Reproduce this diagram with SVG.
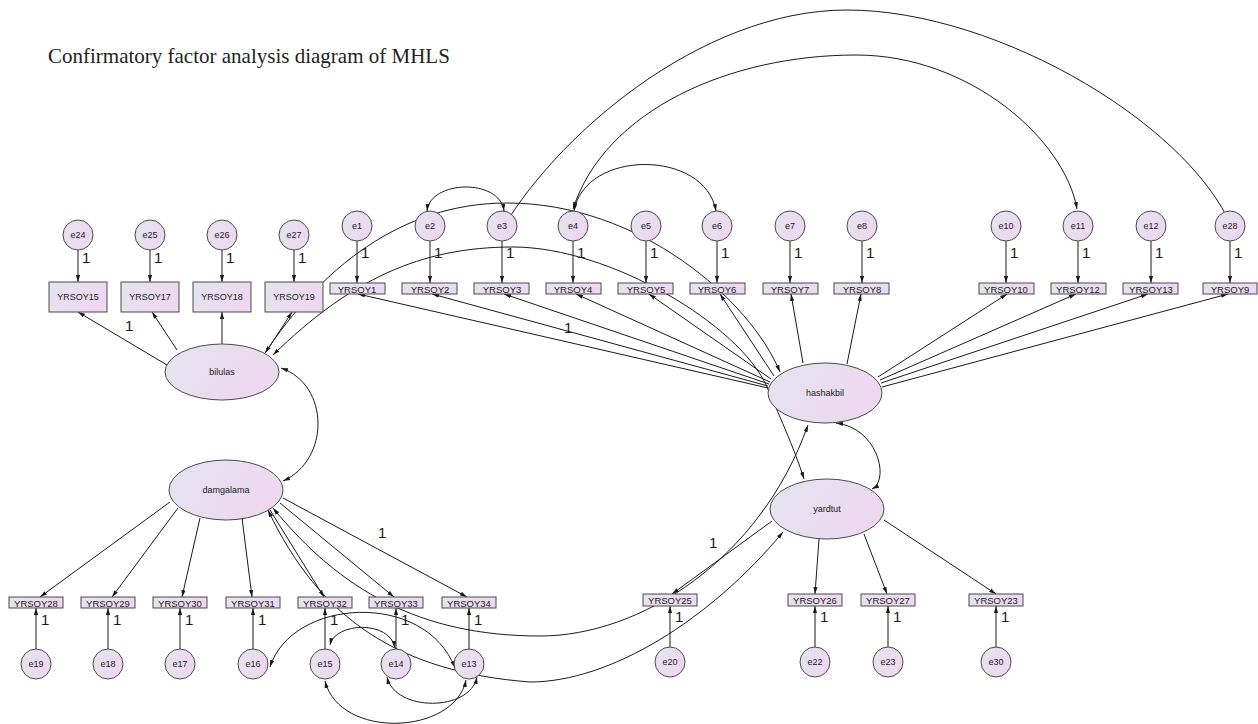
<svg xmlns="http://www.w3.org/2000/svg" width="1258" height="724" viewBox="0 0 1258 724">
<defs>
<linearGradient id="g" x1="0" y1="0" x2="1" y2="0.4"><stop offset="0" stop-color="#e2e5ee"/><stop offset="1" stop-color="#efd7f1"/></linearGradient>
<marker id="ar" viewBox="0 0 10 6" refX="10" refY="3" markerWidth="7" markerHeight="4.5" markerUnits="userSpaceOnUse" orient="auto-start-reverse"><path d="M0,0L10,3L0,6z" fill="#1a1a1a"/></marker>
</defs>
<style>
.n{fill:url(#g);stroke:#4a4a4a;stroke-width:1}
.t{font-family:"Liberation Sans",Arial,sans-serif;font-size:9px;fill:#222;text-anchor:middle}
.bt{font-family:"Liberation Sans",Arial,sans-serif;font-size:9.5px;fill:#222;text-anchor:middle}
.one{font-family:"Liberation Sans",Arial,sans-serif;font-size:15px;fill:#1a1a1a}
.c{fill:none;stroke:#1a1a1a;stroke-width:1}
.s{marker-end:url(#ar)}
.d{marker-start:url(#ar);marker-end:url(#ar)}
.title{font-family:"Liberation Serif","Times New Roman",serif;font-size:21px;fill:#222}
</style>
<rect width="1258" height="724" fill="#fff"/>
<text class="title" x="48" y="63">Confirmatory factor analysis diagram of MHLS</text>

<g id="connectors">
<!-- error to indicator -->
<path class="c s" d="M78,250V282"/><path class="c s" d="M150,250V282"/><path class="c s" d="M222,250V282"/><path class="c s" d="M294,250V282"/>
<path class="c s" d="M357,241V283"/><path class="c s" d="M430,241V283"/><path class="c s" d="M502,241V283"/><path class="c s" d="M573,241V283"/><path class="c s" d="M646,241V283"/><path class="c s" d="M717,241V283"/><path class="c s" d="M790,241V283"/><path class="c s" d="M862,241V283"/><path class="c s" d="M1006,241V283"/><path class="c s" d="M1078,241V283"/><path class="c s" d="M1151,241V283"/><path class="c s" d="M1230,241V283"/>
<path class="c s" d="M36,649V608"/><path class="c s" d="M108,649V608"/><path class="c s" d="M180,649V608"/><path class="c s" d="M253,649V608"/><path class="c s" d="M325,649V608"/><path class="c s" d="M396,649V608"/><path class="c s" d="M469,649V608"/>
<path class="c s" d="M670,647V606"/><path class="c s" d="M815,647V606"/><path class="c s" d="M888,647V606"/><path class="c s" d="M996,647V606"/>
<!-- loadings -->
<path class="c s" d="M167,365L78,312"/><path class="c s" d="M177,350L152,312"/><path class="c s" d="M222,344V312"/><path class="c s" d="M266,352L292,312"/>
<path class="c s" d="M768,388L358,294"/><path class="c s" d="M768,386L432,294"/><path class="c s" d="M769,384L504,294"/><path class="c s" d="M770,382L576,294"/><path class="c s" d="M771,379L649,294"/><path class="c s" d="M774,376L720,294"/><path class="c s" d="M803,363L791,294"/><path class="c s" d="M847,364L861,294"/><path class="c s" d="M878,377L1007,294"/><path class="c s" d="M880,380L1076,294"/><path class="c s" d="M881,383L1148,294"/><path class="c s" d="M882,387L1228,294"/>
<path class="c s" d="M170,502L40,597"/><path class="c s" d="M178,508L112,597"/><path class="c s" d="M200,518L182,597"/><path class="c s" d="M242,518L252,597"/><path class="c s" d="M270,510L324,597"/><path class="c s" d="M280,503L394,597"/><path class="c s" d="M283,498L467,597"/>
<path class="c s" d="M772,521L672,594"/><path class="c s" d="M819,539L815,594"/><path class="c s" d="M864,534L887,594"/><path class="c s" d="M884,520L996,594"/>
<!-- covariances -->
<path class="c d" d="M265,353C320,270 400,203 507,203C640,203 750,300 780,372"/>
<path class="c d" d="M273,355C350,280 420,247 513,247C610,247 740,325 767,387C776,408 795,450 804,479"/>
<path class="c d" d="M281,368C330,385 330,460 283,481"/>
<path class="c d" d="M836,423C878,428 890,480 872,489"/>
<path class="c d" d="M273,508C340,590 420,636 540,636C640,636 760,560 808,425"/>
<path class="c d" d="M268,510C320,620 400,672 530,682C610,682 710,620 783,532"/>
<path class="c d" d="M427,211C430,180 500,178 504,211"/>
<path class="c d" d="M574,211C585,149 705,149 716,211"/>
<path class="c d" d="M497,238C552,138 700,10 847,10C1000,10 1200,130 1236,238"/>
<path class="c d" d="M573,209C605,110 730,55 856,55C970,55 1065,140 1077,209"/>
<path class="c d" d="M270,667C292,598 425,590 455,668"/>
<path class="c d" d="M330,645C335,622 390,620 395,648"/>
<path class="c d" d="M325,681C340,740 455,735 466,680"/>
<path class="c d" d="M387,677C395,712 470,712 477,677"/>
</g>

<g id="weights">
<text class="one" x="82" y="263">1</text><text class="one" x="154" y="263">1</text><text class="one" x="226" y="263">1</text><text class="one" x="298" y="263">1</text>
<text class="one" x="361" y="258">1</text><text class="one" x="434" y="258">1</text><text class="one" x="506" y="258">1</text><text class="one" x="577" y="258">1</text><text class="one" x="650" y="258">1</text><text class="one" x="721" y="258">1</text><text class="one" x="794" y="258">1</text><text class="one" x="866" y="258">1</text><text class="one" x="1010" y="258">1</text><text class="one" x="1082" y="258">1</text><text class="one" x="1155" y="258">1</text><text class="one" x="1234" y="258">1</text>
<text class="one" x="41" y="625">1</text><text class="one" x="113" y="625">1</text><text class="one" x="185" y="625">1</text><text class="one" x="258" y="625">1</text><text class="one" x="330" y="625">1</text><text class="one" x="401" y="625">1</text><text class="one" x="474" y="625">1</text>
<text class="one" x="675" y="622">1</text><text class="one" x="820" y="622">1</text><text class="one" x="893" y="622">1</text><text class="one" x="1001" y="622">1</text>
<text class="one" x="125" y="331">1</text><text class="one" x="564" y="333">1</text><text class="one" x="378" y="538">1</text><text class="one" x="709" y="548">1</text>
</g>

<!-- latent variables -->
<g id="bilulas"><ellipse class="n" cx="222" cy="372" rx="57" ry="28"/><text class="t" x="222" y="375">bilulas</text></g>
<g id="damgalama"><ellipse class="n" cx="226" cy="490" rx="57" ry="30"/><text class="t" x="226" y="493">damgalama</text></g>
<g id="hashakbil"><ellipse class="n" cx="825" cy="393" rx="57" ry="30"/><text class="t" x="825" y="396">hashakbil</text></g>
<g id="yardtut"><ellipse class="n" cx="827" cy="509" rx="57" ry="30"/><text class="t" x="827" y="512">yardtut</text></g>

<!-- top-left indicators -->
<g id="e24"><circle class="n" cx="78" cy="235" r="15"/><text class="t" x="78" y="238">e24</text></g>
<g id="e25"><circle class="n" cx="150" cy="235" r="15"/><text class="t" x="150" y="238">e25</text></g>
<g id="e26"><circle class="n" cx="222" cy="235" r="15"/><text class="t" x="222" y="238">e26</text></g>
<g id="e27"><circle class="n" cx="294" cy="235" r="15"/><text class="t" x="294" y="238">e27</text></g>
<g id="YRSOY15"><rect class="n" x="49" y="282" width="58" height="30"/><text class="t" x="78" y="300">YRSOY15</text></g>
<g id="YRSOY17"><rect class="n" x="121" y="282" width="58" height="30"/><text class="t" x="150" y="300">YRSOY17</text></g>
<g id="YRSOY18"><rect class="n" x="193" y="282" width="58" height="30"/><text class="t" x="222" y="300">YRSOY18</text></g>
<g id="YRSOY19"><rect class="n" x="265" y="282" width="58" height="30"/><text class="t" x="294" y="300">YRSOY19</text></g>

<!-- top indicators of hashakbil -->
<g id="e1"><circle class="n" cx="357" cy="226" r="15"/><text class="t" x="357" y="229">e1</text></g>
<g id="e2"><circle class="n" cx="430" cy="226" r="15"/><text class="t" x="430" y="229">e2</text></g>
<g id="e3"><circle class="n" cx="502" cy="226" r="15"/><text class="t" x="502" y="229">e3</text></g>
<g id="e4"><circle class="n" cx="573" cy="226" r="15"/><text class="t" x="573" y="229">e4</text></g>
<g id="e5"><circle class="n" cx="646" cy="226" r="15"/><text class="t" x="646" y="229">e5</text></g>
<g id="e6"><circle class="n" cx="717" cy="226" r="15"/><text class="t" x="717" y="229">e6</text></g>
<g id="e7"><circle class="n" cx="790" cy="226" r="15"/><text class="t" x="790" y="229">e7</text></g>
<g id="e8"><circle class="n" cx="862" cy="226" r="15"/><text class="t" x="862" y="229">e8</text></g>
<g id="e10"><circle class="n" cx="1006" cy="226" r="15"/><text class="t" x="1006" y="229">e10</text></g>
<g id="e11"><circle class="n" cx="1078" cy="226" r="15"/><text class="t" x="1078" y="229">e11</text></g>
<g id="e12"><circle class="n" cx="1151" cy="226" r="15"/><text class="t" x="1151" y="229">e12</text></g>
<g id="e28"><circle class="n" cx="1230" cy="226" r="15"/><text class="t" x="1230" y="229">e28</text></g>
<g id="YRSOY1"><rect class="n" x="330" y="283" width="55" height="11"/><text class="bt" x="357" y="292.5">YRSOY1</text></g>
<g id="YRSOY2"><rect class="n" x="402" y="283" width="55" height="11"/><text class="bt" x="430" y="292.5">YRSOY2</text></g>
<g id="YRSOY3"><rect class="n" x="474" y="283" width="55" height="11"/><text class="bt" x="502" y="292.5">YRSOY3</text></g>
<g id="YRSOY4"><rect class="n" x="546" y="283" width="55" height="11"/><text class="bt" x="573" y="292.5">YRSOY4</text></g>
<g id="YRSOY5"><rect class="n" x="618" y="283" width="55" height="11"/><text class="bt" x="646" y="292.5">YRSOY5</text></g>
<g id="YRSOY6"><rect class="n" x="690" y="283" width="55" height="11"/><text class="bt" x="717" y="292.5">YRSOY6</text></g>
<g id="YRSOY7"><rect class="n" x="763" y="283" width="55" height="11"/><text class="bt" x="790" y="292.5">YRSOY7</text></g>
<g id="YRSOY8"><rect class="n" x="834" y="283" width="55" height="11"/><text class="bt" x="862" y="292.5">YRSOY8</text></g>
<g id="YRSOY10"><rect class="n" x="979" y="283" width="55" height="11"/><text class="bt" x="1006" y="292.5">YRSOY10</text></g>
<g id="YRSOY12"><rect class="n" x="1051" y="283" width="55" height="11"/><text class="bt" x="1078" y="292.5">YRSOY12</text></g>
<g id="YRSOY13"><rect class="n" x="1123" y="283" width="55" height="11"/><text class="bt" x="1151" y="292.5">YRSOY13</text></g>
<g id="YRSOY9"><rect class="n" x="1203" y="283" width="54" height="11"/><text class="bt" x="1230" y="292.5">YRSOY9</text></g>

<!-- bottom-left indicators -->
<g id="YRSOY28"><rect class="n" x="9" y="597" width="54" height="11"/><text class="bt" x="36" y="606.5">YRSOY28</text></g>
<g id="YRSOY29"><rect class="n" x="81" y="597" width="54" height="11"/><text class="bt" x="108" y="606.5">YRSOY29</text></g>
<g id="YRSOY30"><rect class="n" x="153" y="597" width="54" height="11"/><text class="bt" x="180" y="606.5">YRSOY30</text></g>
<g id="YRSOY31"><rect class="n" x="226" y="597" width="54" height="11"/><text class="bt" x="253" y="606.5">YRSOY31</text></g>
<g id="YRSOY32"><rect class="n" x="298" y="597" width="54" height="11"/><text class="bt" x="325" y="606.5">YRSOY32</text></g>
<g id="YRSOY33"><rect class="n" x="369" y="597" width="54" height="11"/><text class="bt" x="396" y="606.5">YRSOY33</text></g>
<g id="YRSOY34"><rect class="n" x="442" y="597" width="54" height="11"/><text class="bt" x="469" y="606.5">YRSOY34</text></g>
<g id="e19"><circle class="n" cx="36" cy="664" r="15"/><text class="t" x="36" y="667">e19</text></g>
<g id="e18"><circle class="n" cx="108" cy="664" r="15"/><text class="t" x="108" y="667">e18</text></g>
<g id="e17"><circle class="n" cx="180" cy="664" r="15"/><text class="t" x="180" y="667">e17</text></g>
<g id="e16"><circle class="n" cx="253" cy="664" r="15"/><text class="t" x="253" y="667">e16</text></g>
<g id="e15"><circle class="n" cx="325" cy="664" r="15"/><text class="t" x="325" y="667">e15</text></g>
<g id="e14"><circle class="n" cx="396" cy="664" r="15"/><text class="t" x="396" y="667">e14</text></g>
<g id="e13"><circle class="n" cx="469" cy="664" r="15"/><text class="t" x="469" y="667">e13</text></g>

<!-- bottom-right indicators -->
<g id="YRSOY25"><rect class="n" x="643" y="594" width="54" height="12"/><text class="bt" x="670" y="603.5">YRSOY25</text></g>
<g id="YRSOY26"><rect class="n" x="788" y="594" width="54" height="12"/><text class="bt" x="815" y="603.5">YRSOY26</text></g>
<g id="YRSOY27"><rect class="n" x="861" y="594" width="54" height="12"/><text class="bt" x="888" y="603.5">YRSOY27</text></g>
<g id="YRSOY23"><rect class="n" x="969" y="594" width="54" height="12"/><text class="bt" x="996" y="603.5">YRSOY23</text></g>
<g id="e20"><circle class="n" cx="670" cy="662" r="15"/><text class="t" x="670" y="665">e20</text></g>
<g id="e22"><circle class="n" cx="815" cy="662" r="15"/><text class="t" x="815" y="665">e22</text></g>
<g id="e23"><circle class="n" cx="888" cy="662" r="15"/><text class="t" x="888" y="665">e23</text></g>
<g id="e30"><circle class="n" cx="996" cy="662" r="15"/><text class="t" x="996" y="665">e30</text></g>
</svg>
